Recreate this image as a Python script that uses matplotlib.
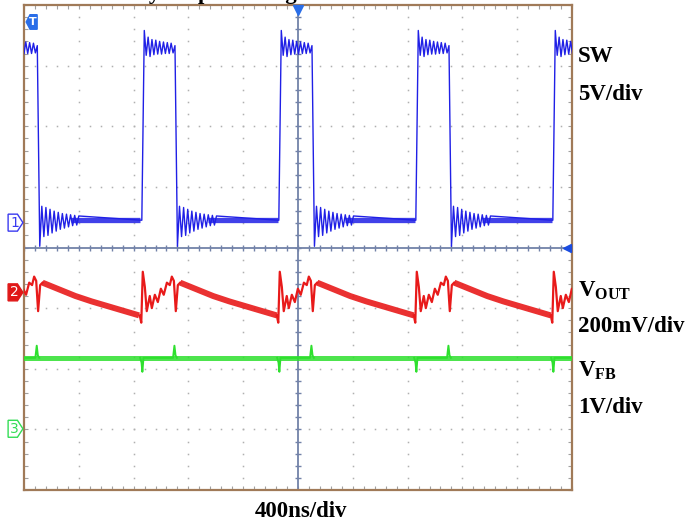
import matplotlib.pyplot as plt
import numpy as np
from matplotlib.patches import Polygon
from matplotlib.transforms import blended_transform_factory

plt.rcParams["font.family"] = ["Liberation Serif", "DejaVu Serif"]
plt.rcParams["mathtext.fontset"] = "custom"
plt.rcParams["mathtext.rm"] = "Liberation Serif:bold"
plt.rcParams["mathtext.it"] = "Liberation Serif:bold"
plt.rcParams["mathtext.bf"] = "Liberation Serif:bold"

# scope screen: 400 ns/div, 10 x 8 divisions
NS_PER_DIV = 400
N_XDIV = 10
N_YDIV = 8

# channel ground markers (div from centre line)
CH_LEVELS = [0.41, -0.74, -2.99]

# rising edges of SW (ns), one switching period = 1000 ns
RISE_NS = [-145, 860, 1860, 2860, 3860]
PERIOD_NS = 1000

# SW (ch1, 5V/div) read in divisions
SW_LOW = 0.45
SW_EDGE_NS = 18
SW_RING_HALF_NS = 14
SW_HIGH_RING = [3.58, 3.17, 3.47, 3.15, 3.43, 3.18, 3.42, 3.19, 3.40,
                3.19, 3.39, 3.20, 3.38, 3.20, 3.37, 3.21, 3.33]
SW_LOW_RING = [0.02, 0.68, 0.18, 0.66, 0.20, 0.63, 0.24, 0.60, 0.27, 0.58,
               0.30, 0.56, 0.32, 0.55, 0.34, 0.54, 0.36, 0.53, 0.37, 0.52]
SW_LOW_RING_HALF_NS = 15

# VOUT (ch2, 200mV/div), times relative to SW rising edge
VOUT_SPIKE_T = [-15, -4, 7, 22, 36, 58, 73, 95, 117, 139, 160, 183, 204, 219, 234, 248, 263, 280]
VOUT_SPIKE_V = [-1.12, -1.24, -0.40, -0.65, -1.05, -0.80, -1.00, -0.78, -0.90, -0.68,
                -0.78, -0.58, -0.62, -0.48, -0.55, -1.05, -0.62, -0.58]
VOUT_RAMP_T = [280, 400, 520, 640, 760, 880, 985]
VOUT_RAMP_V = [-0.58, -0.69, -0.80, -0.89, -0.97, -1.05, -1.12]

# VFB (ch3, 1V/div)
VFB_LEVEL = -1.82
VFB_SPIKE_T = [-12, -2, 4, 12, 228, 238, 246, 256]
VFB_SPIKE_V = [-1.82, -1.90, -2.05, -1.82, -1.82, -1.62, -1.78, -1.82]

BLUE = "#2020e6"
RED = "#e81a1a"
GREEN = "#2ee02e"
BORDER = "#a07a58"
CROSS = "#7282a8"
TRIG = "#2a6ee8"

fig = plt.figure(figsize=(6.93, 5.24), dpi=100)
ax = fig.add_axes([24 / 693, 34 / 524, 548 / 693, 485 / 524])
xmax = NS_PER_DIV * N_XDIV
ax.set_xlim(0, xmax)
ax.set_ylim(-N_YDIV / 2, N_YDIV / 2)

# graticule dots
xs_major = np.arange(1, N_XDIV) * NS_PER_DIV
ys_major = np.arange(-N_YDIV / 2 + 1, N_YDIV / 2)
ys_minor = np.arange(-N_YDIV / 2, N_YDIV / 2 + 0.01, 0.2)
xs_minor = np.arange(0, xmax + 1, NS_PER_DIV / 5)
for x in xs_major:
    if x != xmax / 2:
        ax.plot(np.full_like(ys_minor, x), ys_minor, ls="none", marker="s",
                ms=1.1, mec="none", mfc="#b0b0b0", zorder=1)
for y in ys_major:
    if y != 0:
        ax.plot(xs_minor, np.full_like(xs_minor, y), ls="none", marker="s",
                ms=1.1, mec="none", mfc="#b0b0b0", zorder=1)

# centre crosshair with ticks
ax.axvline(xmax / 2, color=CROSS, lw=1.3, zorder=2)
ax.axhline(0, color=CROSS, lw=1.3, zorder=2)
ax.plot(np.full_like(ys_minor, xmax / 2), ys_minor, ls="none", marker="_",
        ms=5, mew=1, color=CROSS, zorder=2)
ax.plot(xs_minor, np.zeros_like(xs_minor), ls="none", marker="|",
        ms=5, mew=1, color=CROSS, zorder=2)

# border ticks
ax.set_xticks(xs_minor)
ax.set_yticks(ys_minor)
ax.tick_params(direction="in", length=3, width=0.8, color="#a0a0a0",
               top=True, right=True, labelbottom=False, labelleft=False)
for s in ax.spines.values():
    s.set_color(BORDER)
    s.set_linewidth(1.6)

# ---- SW trace ----
sw_t, sw_v = [], []
for t0 in RISE_NS:
    sw_t.append(t0)
    sw_v.append(SW_LOW)
    for k, v in enumerate(SW_HIGH_RING):
        sw_t.append(t0 + SW_EDGE_NS + k * SW_RING_HALF_NS)
        sw_v.append(v)
    t_fall = sw_t[-1] + SW_EDGE_NS
    for k, v in enumerate(SW_LOW_RING):
        sw_t.append(t_fall + k * SW_LOW_RING_HALF_NS)
        sw_v.append(v)
    t_quiet = sw_t[-1]
    sw_t.append(t0 + PERIOD_NS - 5)
    sw_v.append(SW_LOW)
    ax.plot([t_quiet - 60, t0 + PERIOD_NS - 5], [SW_LOW, SW_LOW], color=BLUE,
            lw=3.8, alpha=0.85, solid_capstyle="butt", zorder=3)
ax.plot(sw_t, sw_v, color=BLUE, lw=1.0, zorder=3)

# ---- VOUT trace ----
for t0 in RISE_NS:
    ax.plot([t0 + t for t in VOUT_SPIKE_T], VOUT_SPIKE_V, color=RED, lw=1.6, zorder=3)
    ax.plot([t0 + t for t in VOUT_RAMP_T], VOUT_RAMP_V, color=RED, lw=4.3,
            alpha=0.9, solid_capstyle="butt", zorder=3)

# ---- VFB trace ----
ax.plot([0, xmax], [VFB_LEVEL, VFB_LEVEL], color=GREEN, lw=3.6, alpha=0.85, zorder=3)
for t0 in RISE_NS:
    ax.plot([t0 + t for t in VFB_SPIKE_T], VFB_SPIKE_V, color=GREEN, lw=1.4, zorder=3)

# ---- channel markers ----
trans = blended_transform_factory(ax.transAxes, ax.transData)


def ch_marker(y, label, color, filled):
    h = 0.14
    pts = [(-0.029, y - h), (-0.012, y - h), (-0.002, y), (-0.012, y + h), (-0.029, y + h)]
    ax.add_patch(Polygon(pts, closed=True, transform=trans, clip_on=False,
                         fc=color if filled else "white", ec=color, lw=1.0, zorder=5))
    ax.text(-0.0175, y, label, transform=trans, ha="center", va="center",
            fontsize=10, family="DejaVu Sans", color="white" if filled else color,
            clip_on=False, zorder=6)


ch_marker(CH_LEVELS[0], "1", "#3a3af0", False)
ch_marker(CH_LEVELS[1], "2", "#e01818", True)
ch_marker(CH_LEVELS[2], "3", "#33dd55", False)

# trigger flag at top-left
tp = [(0.004, 3.72), (0.011, 3.84), (0.024, 3.84), (0.024, 3.60), (0.011, 3.60)]
ax.add_patch(Polygon(tp, closed=True, transform=trans, fc=TRIG, ec=TRIG, zorder=5))
ax.text(0.0155, 3.72, "T", transform=trans, ha="center", va="center", fontsize=8,
        family="DejaVu Sans", fontweight="bold", color="white", zorder=6)
# trigger position and level
ax.plot([xmax / 2], [3.92], marker="v", ms=7, color=TRIG, mec=TRIG, clip_on=False, zorder=5)
ax.plot([xmax - 40], [0], marker="<", ms=6, color="#1a4ce0", clip_on=False, zorder=5)

# ---- labels ----
lab = dict(fontsize=16.5, fontweight="bold", family="Liberation Serif", va="baseline")
fig.text(578 / 693, 1 - 62 / 524, "SW", **lab)
fig.text(578 / 693, 1 - 100 / 524, "5V/div", **lab)
fig.text(578 / 693, 1 - 297 / 524, r"V$_{\mathrm{OUT}}$", **lab)
fig.text(578 / 693, 1 - 332 / 524, "200mV/div", **lab)
fig.text(578 / 693, 1 - 377 / 524, r"V$_{\mathrm{FB}}$", **lab)
fig.text(578 / 693, 1 - 413 / 524, "1V/div", **lab)
fig.text(301 / 693, 1 - 517 / 524, "400ns/div", ha="center", fontsize=16.5,
         fontweight="bold", family="Liberation Serif", va="baseline")
# caption cut off by the top edge (only descenders visible, as in the reference)
fig.text(33 / 693, 1.002, "Measured by output voltage", fontsize=16.5,
         fontweight="bold", family="Liberation Serif", va="baseline")

fig.savefig("out.png", dpi=100)
